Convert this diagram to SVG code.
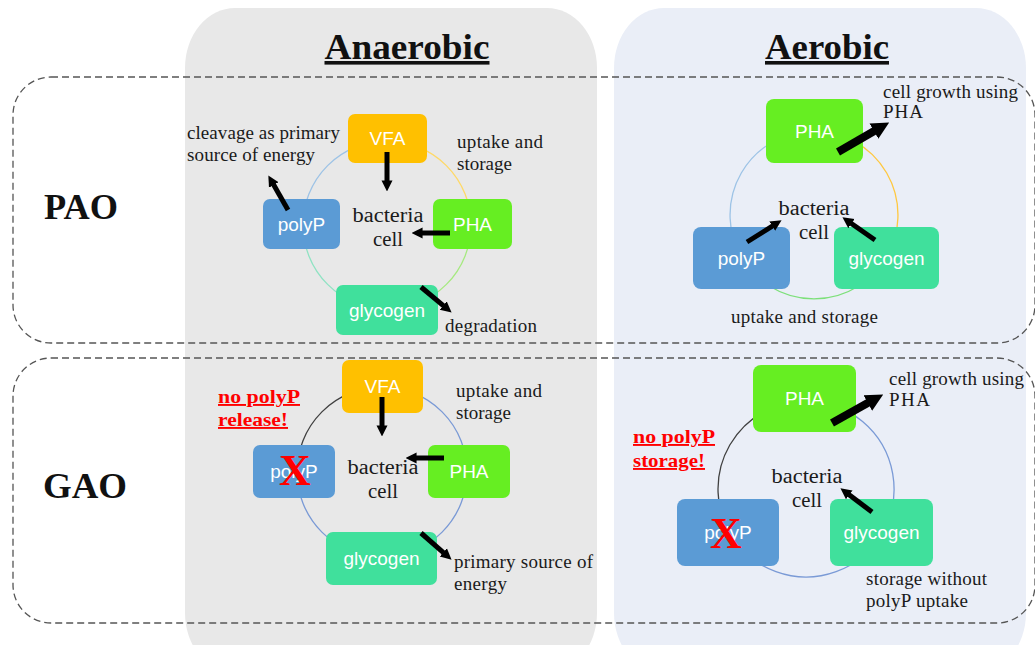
<svg xmlns="http://www.w3.org/2000/svg" width="1035" height="645" viewBox="0 0 1035 645">
<style>
.lbl{font-family:"Liberation Serif","Times New Roman",serif;font-size:19px;fill:#1a1a1a}
.ctr{text-anchor:middle}
.bc{font-size:20px}
.box{font-family:"Liberation Sans",Arial,sans-serif;font-size:19px;fill:#ffffff;text-anchor:middle}
.title{font-family:"Liberation Serif","Times New Roman",serif;font-size:36px;font-weight:bold;fill:#111;text-anchor:middle;text-decoration:underline}
.org{font-family:"Liberation Serif","Times New Roman",serif;font-size:36px;font-weight:bold;fill:#111;text-anchor:middle}
.warn{font-family:"Liberation Serif","Times New Roman",serif;font-size:19px;font-weight:bold;fill:#ff0000;text-decoration:underline}
.x{font-family:"Liberation Serif","Times New Roman",serif;font-size:44px;font-weight:bold;fill:#ff0000;text-anchor:middle}
.dash{fill:none;stroke:#555;stroke-width:1.3;stroke-dasharray:7 4}
.arr{stroke:#000;fill:none;marker-end:url(#head)}
.vfa{fill:#ffc000}.pp{fill:#5b9bd5}.pha{fill:#66ee22}.gly{fill:#40e09c}
.cyc{fill:none;stroke-width:1.3}
</style>
<defs>
<marker id="head" viewBox="0 0 10 10" refX="0.5" refY="5" markerWidth="2.2" markerHeight="2.6" orient="auto" markerUnits="strokeWidth">
<path d="M0,0 L10,5 L0,10 z" fill="#000"/>
</marker>
</defs>
<rect width="1035" height="645" fill="#ffffff"/>
<g id="panels">
<rect x="185" y="8" width="412" height="665" rx="50" ry="60" fill="#e8e8e8"/>
<rect x="614" y="8" width="412" height="665" rx="50" ry="60" fill="#eaeef7"/>
<text class="title" x="407" y="59" textLength="165" lengthAdjust="spacingAndGlyphs">Anaerobic</text>
<text class="title" x="827" y="59" textLength="124" lengthAdjust="spacingAndGlyphs">Aerobic</text>
</g>
<g id="groups">
<rect class="dash" x="13" y="77" width="1022" height="266" rx="38" ry="38"/>
<rect class="dash" x="13" y="358" width="1022" height="265" rx="38" ry="38"/>
<text class="org" x="81" y="219" textLength="74" lengthAdjust="spacingAndGlyphs">PAO</text>
<text class="org" x="85" y="498" textLength="84" lengthAdjust="spacingAndGlyphs">GAO</text>
</g>
<g id="cycles">
<path class="cyc" stroke="#ffd966" d="M387,141 A84,84 0 0 1 471,225"/>
<path class="cyc" stroke="#a6ea80" d="M471,225 A84,84 0 0 1 387,309"/>
<path class="cyc" stroke="#8fe3c3" d="M387,309 A84,84 0 0 1 303,225"/>
<path class="cyc" stroke="#9dc3e6" d="M303,225 A84,84 0 0 1 387,141"/>
<path class="cyc" stroke="#ffc840" d="M814,131 A84,84 0 0 1 886.7,257"/>
<path class="cyc" stroke="#7de07a" d="M886.7,257 A84,84 0 0 1 741.3,257"/>
<path class="cyc" stroke="#9dc3e6" d="M741.3,257 A84,84 0 0 1 814,131"/>
<path class="cyc" stroke="#404040" d="M297,472 A85,85 0 0 1 382,387"/>
<path class="cyc" stroke="#7a9ad6" d="M382,387 A85,85 0 1 1 297,472"/>
<path class="cyc" stroke="#404040" d="M729.8,533 A88,88 0 0 1 806,401"/>
<path class="cyc" stroke="#7a9ad6" d="M806,401 A88,88 0 1 1 729.8,533"/>
</g>
<g id="pao-an-vfa"><rect class="vfa" x="348" y="114" width="79" height="49" rx="7"/><text class="box" x="387.5" y="145">VFA</text></g>
<g id="pao-an-polyp"><rect class="pp" x="263" y="199" width="77" height="50" rx="7"/><text class="box" x="301.5" y="230.5">polyP</text></g>
<g id="pao-an-pha"><rect class="pha" x="433" y="199" width="79" height="50" rx="7"/><text class="box" x="472.5" y="230.5">PHA</text></g>
<g id="pao-an-glycogen"><rect class="gly" x="336" y="285" width="102" height="50" rx="7"/><text class="box" x="387" y="316.5">glycogen</text></g>
<g id="pao-ae-pha"><rect class="pha" x="766" y="99" width="97" height="64" rx="8"/><text class="box" x="814.5" y="137.5">PHA</text></g>
<g id="pao-ae-polyp"><rect class="pp" x="693" y="227" width="97" height="62" rx="8"/><text class="box" x="741.5" y="264.5">polyP</text></g>
<g id="pao-ae-glycogen"><rect class="gly" x="834" y="227" width="105" height="62" rx="8"/><text class="box" x="886.5" y="264.5">glycogen</text></g>
<g id="gao-an-vfa"><rect class="vfa" x="342" y="360" width="81" height="53" rx="7"/><text class="box" x="382.5" y="393">VFA</text></g>
<g id="gao-an-polyp"><rect class="pp" x="253" y="445" width="82" height="53" rx="7"/><text class="box" x="294" y="478">polyP</text><text class="x" x="295" y="485">X</text></g>
<g id="gao-an-pha"><rect class="pha" x="428" y="445" width="82" height="53" rx="7"/><text class="box" x="469" y="478">PHA</text></g>
<g id="gao-an-glycogen"><rect class="gly" x="326" y="532" width="111" height="53" rx="7"/><text class="box" x="381.5" y="565">glycogen</text></g>
<g id="gao-ae-pha"><rect class="pha" x="753" y="365" width="103" height="67" rx="8"/><text class="box" x="804.5" y="405">PHA</text></g>
<g id="gao-ae-polyp"><rect class="pp" x="677" y="499" width="102" height="67" rx="8"/><text class="box" x="728" y="539">polyP</text><text class="x" x="726" y="548">X</text></g>
<g id="gao-ae-glycogen"><rect class="gly" x="830" y="499" width="103" height="67" rx="8"/><text class="box" x="881.5" y="539">glycogen</text></g>
<g id="connectors">
<line class="arr" stroke-width="5" x1="387" y1="152" x2="387" y2="181"/>
<line class="arr" stroke-width="5" x1="288" y1="210" x2="273.5" y2="184.5"/>
<line class="arr" stroke-width="5" x1="450" y1="233" x2="422" y2="233"/>
<line class="arr" stroke-width="5" x1="421" y1="287" x2="443.6" y2="305.9"/>
<line class="arr" stroke-width="8" x1="838" y1="152" x2="874.7" y2="130.8"/>
<line class="arr" stroke-width="5" x1="747" y1="242" x2="772.7" y2="225.9"/>
<line class="arr" stroke-width="5" x1="875" y1="240" x2="851" y2="223.3"/>
<line class="arr" stroke-width="5" x1="382" y1="397" x2="382" y2="426"/>
<line class="arr" stroke-width="5" x1="444" y1="458" x2="416" y2="458"/>
<line class="arr" stroke-width="5" x1="421" y1="533" x2="443.7" y2="552.8"/>
<line class="arr" stroke-width="8" x1="832" y1="423" x2="868.6" y2="402.6"/>
<line class="arr" stroke-width="5" x1="872" y1="512" x2="848.8" y2="494.6"/>
</g>
<g id="labels">
<text class="lbl" x="187" y="139" textLength="153">cleavage as primary</text>
<text class="lbl" x="187" y="161" textLength="128">source of energy</text>
<text class="lbl" x="457" y="148" textLength="86">uptake and</text>
<text class="lbl" x="457" y="170" textLength="55">storage</text>
<text class="lbl bc ctr" x="388" y="222" textLength="71" lengthAdjust="spacingAndGlyphs">bacteria</text>
<text class="lbl bc ctr" x="388" y="246" textLength="30" lengthAdjust="spacingAndGlyphs">cell</text>
<text class="lbl" x="445" y="332" textLength="92">degradation</text>
<text class="lbl" x="883" y="98" textLength="135">cell growth using</text>
<text class="lbl" x="883" y="118" textLength="40">PHA</text>
<text class="lbl bc ctr" x="814" y="215" textLength="71" lengthAdjust="spacingAndGlyphs">bacteria</text>
<text class="lbl bc ctr" x="814" y="239" textLength="30" lengthAdjust="spacingAndGlyphs">cell</text>
<text class="lbl" x="731" y="323" textLength="147">uptake and storage</text>
<text class="warn" x="218" y="403" textLength="82" lengthAdjust="spacingAndGlyphs">no polyP</text>
<text class="warn" x="218" y="426" textLength="70" lengthAdjust="spacingAndGlyphs">release!</text>
<text class="lbl" x="456" y="397" textLength="86">uptake and</text>
<text class="lbl" x="456" y="419" textLength="55">storage</text>
<text class="lbl bc ctr" x="383" y="474" textLength="71" lengthAdjust="spacingAndGlyphs">bacteria</text>
<text class="lbl bc ctr" x="383" y="498" textLength="30" lengthAdjust="spacingAndGlyphs">cell</text>
<text class="lbl" x="454" y="568" textLength="139">primary source of</text>
<text class="lbl" x="454" y="590" textLength="53">energy</text>
<text class="lbl" x="889" y="385" textLength="135">cell growth using</text>
<text class="lbl" x="889" y="406" textLength="41">PHA</text>
<text class="warn" x="633" y="443" textLength="82" lengthAdjust="spacingAndGlyphs">no polyP</text>
<text class="warn" x="633" y="467" textLength="72" lengthAdjust="spacingAndGlyphs">storage!</text>
<text class="lbl bc ctr" x="807" y="483" textLength="71" lengthAdjust="spacingAndGlyphs">bacteria</text>
<text class="lbl bc ctr" x="807" y="507" textLength="30" lengthAdjust="spacingAndGlyphs">cell</text>
<text class="lbl" x="866" y="585" textLength="121">storage without</text>
<text class="lbl" x="866" y="607" textLength="102">polyP uptake</text>
</g>
</svg>
